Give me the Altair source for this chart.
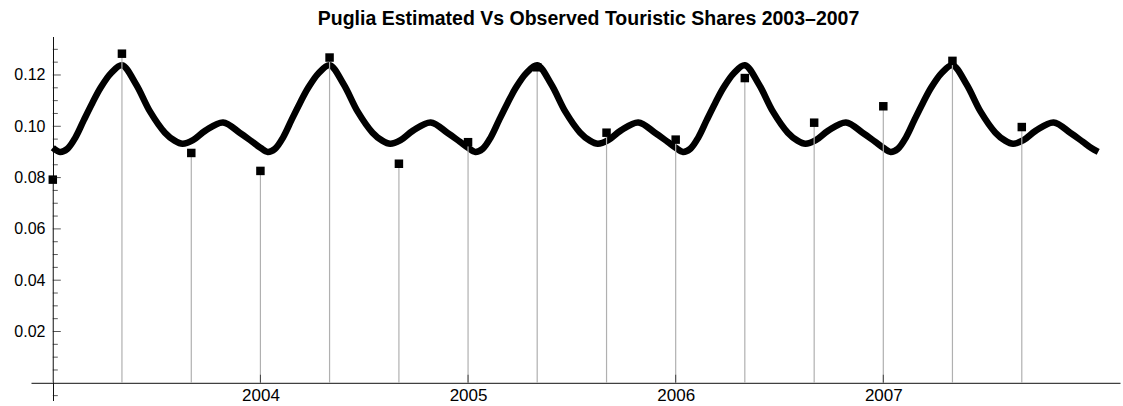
import altair as alt
import pandas as pd

# ---- data ----
# one yearly cycle of the estimated curve (fraction of year, share)
cycle_frac = [0.0, 0.035, 0.07, 0.11, 0.15, 0.19, 0.23, 0.28, 0.333, 0.40, 0.47, 0.54,
              0.585, 0.625, 0.675, 0.735, 0.82, 0.90, 0.96]
cycle_val = [0.0916, 0.0900, 0.0912, 0.0958, 0.1025, 0.1090, 0.1150, 0.1207, 0.1238, 0.1165, 0.1055, 0.0975,
             0.0945, 0.0932, 0.0946, 0.0983, 0.1015, 0.0975, 0.0940]
curve_years = [2003, 2004, 2005, 2006, 2007]
curve_tail_frac = [0.0, 0.035]
curve_tail_val = [0.0916, 0.0900]

obs_time = [2003.0, 2003.333, 2003.667, 2004.0, 2004.333, 2004.667, 2005.0, 2005.333,
            2005.667, 2006.0, 2006.333, 2006.667, 2007.0, 2007.333, 2007.667]
obs_val = [0.0792, 0.1283, 0.0896, 0.0826, 0.1268, 0.0854, 0.0938, 0.1230,
           0.0975, 0.0948, 0.1188, 0.1014, 0.1078, 0.1255, 0.0997]

x_labels = [2004, 2005, 2006, 2007]
y_labels = [0.02, 0.04, 0.06, 0.08, 0.10, 0.12]
y_minor = [-0.005, 0.005, 0.01, 0.015, 0.025, 0.03, 0.035, 0.045, 0.05, 0.055,
           0.065, 0.07, 0.075, 0.085, 0.09, 0.095, 0.105, 0.11, 0.115, 0.125, 0.13]
x_origin = 2003
y_origin = 0.0

title = "Puglia Estimated Vs Observed Touristic Shares 2003\u20132007"

# ---- tables ----
rows = []
for yr in curve_years:
    for f, v in zip(cycle_frac, cycle_val):
        rows.append({"t": yr + f, "v": v})
for f, v in zip(curve_tail_frac, curve_tail_val):
    rows.append({"t": 2008 + f, "v": v})
curve_df = pd.DataFrame(rows)
obs_df = pd.DataFrame({"t": obs_time, "v": obs_val, "base": [y_origin] * len(obs_time)})
xt_df = pd.DataFrame({"t": x_labels, "base": [y_origin] * len(x_labels)})
ymaj_df = pd.DataFrame({"v": y_labels, "xo": [x_origin] * len(y_labels)})
ymin_df = pd.DataFrame({"v": y_minor, "xo": [x_origin] * len(y_minor)})

W, H = 1089, 364
xs = alt.Scale(domain=[2002.895, 2008.14], nice=False, zero=False)
ys = alt.Scale(domain=[-0.0069, 0.135], nice=False, zero=False)
FONT = "Liberation Sans"

x_axis = alt.Axis(values=x_labels, format="d", grid=False, ticks=False, offset=-17.7,
                  domainColor="#111", domainWidth=1, labelFontSize=17, labelColor="black",
                  labelFont=FONT, labelPadding=5, title=None)
y_axis = alt.Axis(values=y_labels, format=".2f", grid=False, ticks=False, offset=-22,
                  domainColor="#111", domainWidth=1, labelFontSize=16, labelColor="black",
                  labelFont=FONT, labelPadding=8, title=None)

curve = alt.Chart(curve_df).mark_line(
    color="black", strokeWidth=6.5, interpolate="catmull-rom", strokeCap="butt"
).encode(
    x=alt.X("t:Q", scale=xs, axis=x_axis),
    y=alt.Y("v:Q", scale=ys, axis=y_axis),
    order="t:Q",
)

stems = alt.Chart(obs_df).mark_rule(color="#b0b0b0", strokeWidth=1.2).encode(
    x=alt.X("t:Q", scale=xs),
    y=alt.Y("base:Q", scale=ys),
    y2="v:Q",
)

points = alt.Chart(obs_df).mark_square(color="black", size=72, opacity=1).encode(
    x=alt.X("t:Q", scale=xs),
    y=alt.Y("v:Q", scale=ys),
)

xticks = alt.Chart(xt_df).mark_tick(orient="vertical", size=8, thickness=1, color="#111", yOffset=-4).encode(
    x=alt.X("t:Q", scale=xs),
    y=alt.Y("base:Q", scale=ys),
)

ymaj = alt.Chart(ymaj_df).mark_tick(orient="horizontal", size=8, thickness=1, color="#111", xOffset=4).encode(
    x=alt.X("xo:Q", scale=xs),
    y=alt.Y("v:Q", scale=ys),
)

ymin = alt.Chart(ymin_df).mark_tick(orient="horizontal", size=5, thickness=1, color="#111", xOffset=2.5).encode(
    x=alt.X("xo:Q", scale=xs),
    y=alt.Y("v:Q", scale=ys),
)

chart = alt.layer(curve, stems, points, xticks, ymaj, ymin).properties(
    width=W, height=H,
    title=alt.TitleParams(title, font=FONT, fontSize=19.5, fontWeight="bold", color="black",
                          anchor="middle", dx=13, offset=7),
    autosize=alt.AutoSizeParams(type="none"),
    padding={"left": 31, "top": 36.5, "right": 3, "bottom": 6},
    background="white",
).configure_view(stroke=None)

chart.save("out.html", embed_options={"renderer": "svg", "actions": False})
